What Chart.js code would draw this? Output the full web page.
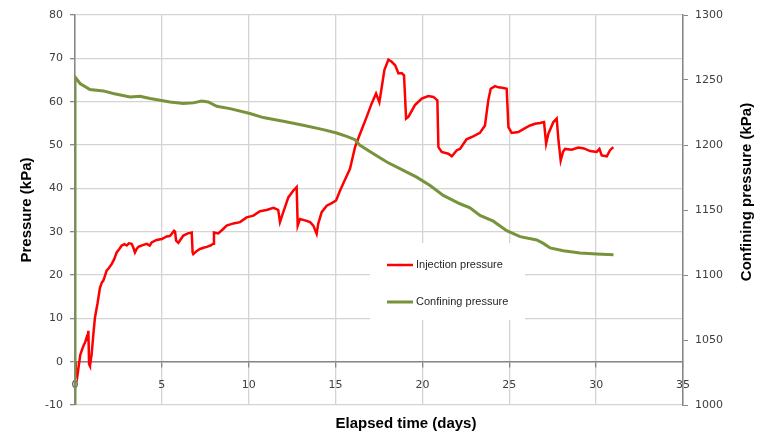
<!DOCTYPE html>
<html>
<head>
<meta charset="utf-8">
<script src="https://cdn.jsdelivr.net/npm/chart.js@4.4.1/dist/chart.umd.min.js"></script>
<style>
html, body { margin: 0; padding: 0; background: #fff; }
#wrap { width: 760px; height: 435px; }
</style>
</head>
<body>
<div id="wrap"><canvas id="chart" width="760" height="435"></canvas></div>
<script>
// --- Données ---
const injTime = [0, 0.05, 0.13, 0.2, 0.3, 0.38, 0.5, 0.58, 0.67, 0.72, 0.77, 0.81, 0.86, 0.96, 1.05, 1.15, 1.29, 1.44, 1.55, 1.63,
  1.7, 1.82, 1.95, 2.11, 2.25, 2.4, 2.55, 2.69, 2.85, 2.98, 3.1, 3.26, 3.35, 3.45, 3.55, 3.65, 3.9, 4.13, 4.3, 4.41,
  4.7, 5.0, 5.28, 5.45, 5.57, 5.7, 5.76, 5.82, 5.95, 6.1, 6.24, 6.5, 6.72, 6.77, 6.81, 7.0, 7.19, 7.4, 7.58, 7.8,
  7.96, 8.0, 8.25, 8.5, 8.73, 9.12, 9.5, 9.88, 10.27, 10.65, 11.03, 11.42, 11.6, 11.7, 11.8, 11.99, 12.28, 12.57, 12.76, 12.82,
  12.95, 13.24, 13.53, 13.72, 13.91, 14.0, 14.2, 14.49, 14.78, 15.03, 15.26, 15.54, 15.83, 16.12, 16.41, 16.79, 17.08, 17.33, 17.52, 17.66,
  17.81, 18.04, 18.23, 18.43, 18.62, 18.81, 18.94, 19.06, 19.19, 19.57, 19.96, 20.34, 20.63, 20.86, 20.92, 21.11, 21.49, 21.69, 21.98, 22.16,
  22.54, 22.92, 23.31, 23.6, 23.79, 23.93, 24.18, 24.37, 24.6, 24.85, 24.95, 25.14, 25.52, 25.91, 26.2, 26.48, 26.77, 27.0, 27.12, 27.25,
  27.54, 27.73, 27.83, 27.96, 28.1, 28.21, 28.59, 28.98, 29.3, 29.65, 30.03, 30.19, 30.32, 30.61, 30.8, 30.99];
const injPressure = [0, -2.5, -3.5, -1.5, 1.5, 2.5, 3.8, 4.4, 5.6, 5.2, 7.1, -0.6, -1.0, 1.8, 6, 10.2, 13.3, 17.1, 18.3, 18.7,
  19.5, 21, 21.6, 22.5, 23.6, 25.2, 26, 26.8, 27.1, 26.8, 27.3, 27.2, 26.4, 25.2, 26.0, 26.5, 26.9, 27.2, 26.8, 27.5,
  28.1, 28.3, 28.9, 29.0, 29.5, 30.2, 30.0, 27.9, 27.4, 28.3, 29.1, 29.6, 29.8, 25.2, 24.8, 25.5, 26.0, 26.3, 26.5, 26.8,
  27.2, 29.8, 29.6, 30.5, 31.4, 31.9, 32.2, 33.3, 33.7, 34.7, 35.0, 35.5, 35.2, 35.0, 32.2, 34.5, 37.9, 39.5, 40.3, 31.4,
  32.9, 32.6, 32.2, 31.4, 29.5, 31.8, 34.5, 36.0, 36.6, 37.2, 39.5, 42.0, 44.5, 49.5, 52.6, 56.5, 59.6, 61.9, 59.9, 63.4,
  67.3, 69.7, 69.2, 68.4, 66.5, 66.6, 66.1, 56.1, 56.5, 59.2, 60.7, 61.3, 61.1, 60.3, 49.5, 48.4, 48.0, 47.4, 48.8, 49.1,
  51.3, 52.0, 52.8, 54.5, 60.3, 63.0, 63.6, 63.3, 63.2, 63.0, 54.1, 52.8, 53.0, 53.9, 54.5, 54.9, 55.1, 55.3, 50.3, 52.6,
  55.3, 56.1, 51.1, 46.4, 48.5, 49.1, 48.9, 49.4, 49.2, 48.6, 48.4, 49.1, 47.6, 47.4, 48.8, 49.5];

const confTime = [0, 0, 0.29, 0.86, 1.63, 2.2, 3.17, 3.74, 4.32, 5.47, 6.24, 6.81, 7.29, 7.67, 8.16, 8.92, 10.07, 10.84, 11.99, 13.14,
  14.29, 15.06, 15.64, 16.12, 16.41, 17.18, 17.95, 18.9, 19.67, 20.44, 21.2, 22.16, 22.74, 23.31, 24.08, 24.85, 25.62, 26.58, 26.96, 27.35,
  28.11, 29.07, 30.03, 31.0];
const confPressure = [1000, 1252.4, 1247.3, 1242.7, 1241.6, 1239.6, 1237, 1237.5, 1235.8, 1233.1, 1231.9, 1232.4, 1233.9, 1233.1, 1229.8, 1228, 1224.2, 1221.1, 1218.3, 1215.2,
  1211.8, 1209.2, 1206.6, 1204.1, 1199.7, 1193.3, 1186.9, 1180.5, 1175.3, 1168.9, 1161.2, 1154.8, 1151.7, 1145.8, 1141.4, 1134.1, 1129.5, 1126.9, 1124.3, 1120.8,
  1118.7, 1117, 1116.2, 1115.6];

// graduations
const xTicks = [0, 5, 10, 15, 20, 25, 30, 35];
const leftTicks = [-10, 0, 10, 20, 30, 40, 50, 60, 70, 80];
const rightTicks = [1000, 1050, 1100, 1150, 1200, 1250, 1300];

const tickFont = { family: '"DejaVu Sans", Verdana, sans-serif', size: 11 };
const titleFont = { family: '"Liberation Sans", Arial, sans-serif', size: 15, weight: 'bold' };

// legende dans un cadre blanc (comme Excel)
const legendBox = {
  id: 'legendBox',
  afterDatasetsDraw(chart) {
    const ctx = chart.ctx;
    ctx.save();
    ctx.fillStyle = '#ffffff';
    ctx.fillRect(370, 243, 155, 77);
    const rows = [265, 302];
    chart.data.datasets.forEach((ds, i) => {
      ctx.strokeStyle = ds.borderColor;
      ctx.lineWidth = ds.borderWidth;
      ctx.beginPath();
      ctx.moveTo(387, rows[i]);
      ctx.lineTo(413, rows[i]);
      ctx.stroke();
      ctx.fillStyle = '#262626';
      ctx.font = '11px "Liberation Sans", Arial, sans-serif';
      ctx.textBaseline = 'middle';
      ctx.fillText(ds.label, 416, rows[i]);
    });
    ctx.restore();
  }
};

// titres des axes x et y droit
const extraTitles = {
  id: 'extraTitles',
  afterDraw(chart) {
    const ctx = chart.ctx;
    ctx.save();
    ctx.font = 'bold 15px "Liberation Sans", Arial, sans-serif';
    ctx.fillStyle = '#000';
    ctx.textAlign = 'center';
    ctx.textBaseline = 'middle';
    ctx.fillText('Elapsed time (days)', 406, 424);
    ctx.translate(747, 192);
    ctx.rotate(-Math.PI / 2);
    ctx.fillText('Confining pressure (kPa)', 0, 0);
    ctx.restore();
  }
};

const plainLabel = v => String(v);

new Chart(document.getElementById('chart').getContext('2d'), {
  type: 'scatter',
  data: {
    datasets: [{
      label: 'Injection pressure',
      data: injTime.map((t, i) => ({ x: t, y: injPressure[i] })),
      showLine: true,
      borderColor: '#ff0000',
      borderWidth: 2.5,
      pointRadius: 0,
      yAxisID: 'y',
      order: 1
    }, {
      label: 'Confining pressure',
      data: confTime.map((t, i) => ({ x: t, y: confPressure[i] })),
      showLine: true,
      borderColor: '#77933c',
      borderWidth: 3,
      pointRadius: 0,
      yAxisID: 'y1',
      order: 0
    }]
  },
  options: {
    responsive: false,
    animation: false,
    layout: { padding: { top: 15, left: 0, right: 0, bottom: 30 } },
    plugins: { legend: { display: false }, tooltip: { enabled: false } },
    scales: {
      x: {
        type: 'linear',
        position: { y: 0 },
        min: xTicks[0], max: xTicks[xTicks.length - 1],
        afterBuildTicks: s => { s.ticks = xTicks.map(v => ({ value: v })); },
        afterFit: s => { s.height = 31; },
        ticks: { font: tickFont, color: '#404040', padding: 12, callback: plainLabel },
        grid: { color: '#d4d4d4', lineWidth: 1.3, tickLength: 5, tickColor: '#868686' },
        border: { color: '#868686', width: 1.5 }
      },
      y: {
        position: 'left',
        min: leftTicks[0], max: leftTicks[leftTicks.length - 1],
        afterBuildTicks: s => { s.ticks = leftTicks.map(v => ({ value: v })); },
        afterFit: s => { s.width = 75; },
        ticks: { font: tickFont, color: '#404040', padding: 7, callback: plainLabel },
        grid: { color: '#d4d4d4', lineWidth: 1.3, tickLength: 5, tickColor: '#868686' },
        border: { color: '#868686', width: 1.5 },
        title: { display: true, text: 'Pressure (kPa)', font: titleFont, color: '#000', padding: { top: 18, bottom: 0 } }
      },
      y1: {
        position: 'right',
        min: rightTicks[0], max: rightTicks[rightTicks.length - 1],
        afterBuildTicks: s => { s.ticks = rightTicks.map(v => ({ value: v })); },
        afterFit: s => { s.width = 77; },
        ticks: { font: tickFont, color: '#404040', padding: 7, callback: plainLabel },
        grid: { drawOnChartArea: false, tickLength: 5, tickColor: '#868686' },
        border: { color: '#868686', width: 1.5 }
      }
    }
  },
  plugins: [legendBox, extraTitles]
});
</script>
</body>
</html>
